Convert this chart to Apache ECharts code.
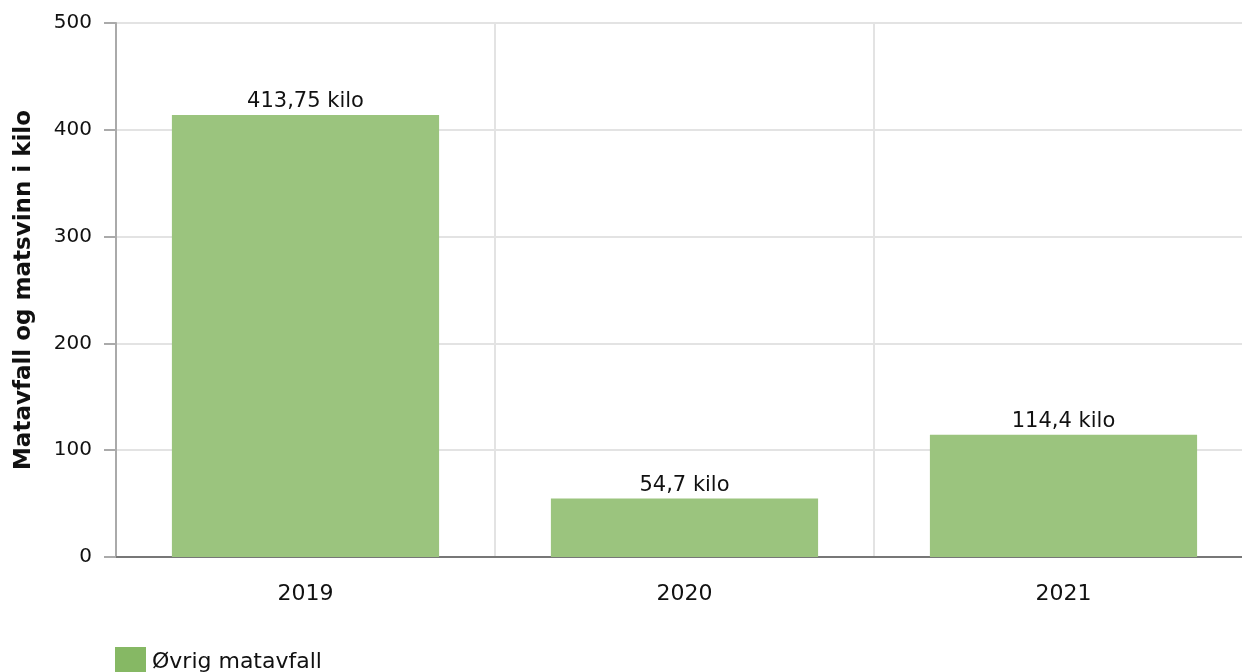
<!DOCTYPE html>
<html>
<head>
<meta charset="utf-8">
<script src="https://cdn.jsdelivr.net/npm/echarts@6/dist/echarts.min.js"></script>
<style>
  html, body { margin: 0; padding: 0; background: #fff; }
  #chart { width: 1242px; height: 672px; }
</style>
</head>
<body>
<div id="chart"></div>
<script>
var years = ['2019', '2020', '2021'];
var ovrigMatavfall = [413.75, 54.7, 114.4];
var seriesName = 'Øvrig matavfall';
var yTitle = 'Matavfall og matsvinn i kilo';

function fmt(v) {
    return String(v).replace('.', ',') + ' kilo';
}

var myChart = echarts.init(document.getElementById('chart'));
var font = 'DejaVu Sans, Verdana, sans-serif';
var option = {
    animation: false,
    textStyle: { fontFamily: font },
    grid: { left: 116, top: 23, width: 1137, bottom: 115, outerBoundsMode: 'none', containLabel: false },
    legend: {
        left: 110,
        top: 642,
        itemWidth: 31,
        itemHeight: 30,
        itemGap: 10,
        icon: 'rect',
        itemStyle: { color: '#86b864', opacity: 1 },
        textStyle: { fontSize: 22, color: '#111', fontFamily: font, padding: [2, 0, 0, 1] },
        data: [seriesName]
    },
    xAxis: {
        type: 'category',
        data: years,
        axisLine: { lineStyle: { color: '#777', width: 2 } },
        axisTick: { alignWithLabel: true, length: 12, lineStyle: { color: '#aaa', width: 2 } },
        axisLabel: { fontSize: 22, color: '#111', margin: 26, fontFamily: font },
        splitLine: { show: true, lineStyle: { color: '#e3e3e3', width: 2 } }
    },
    yAxis: {
        type: 'value',
        min: 0,
        max: 500,
        interval: 100,
        name: yTitle,
        nameLocation: 'middle',
        nameGap: 80,
        nameTextStyle: { fontSize: 23, fontWeight: 'bold', color: '#111', fontFamily: font },
        axisLine: { show: true, lineStyle: { color: '#aaa', width: 2 } },
        axisTick: { show: true, length: 12, lineStyle: { color: '#aaa', width: 2 } },
        axisLabel: { fontSize: 20, color: '#111', margin: 24, fontFamily: font },
        splitLine: { lineStyle: { color: '#e3e3e3', width: 2 } }
    },
    series: [
        {
            name: seriesName,
            type: 'bar',
            data: ovrigMatavfall,
            barWidth: '70.5%',
            itemStyle: { color: '#9bc47e' },
            label: {
                show: true,
                position: 'top',
                distance: 3,
                fontSize: 21,
                color: '#111',
                fontFamily: font,
                formatter: function (p) { return fmt(p.value); }
            }
        }
    ]
};

myChart.setOption(option);
</script>
</body>
</html>
